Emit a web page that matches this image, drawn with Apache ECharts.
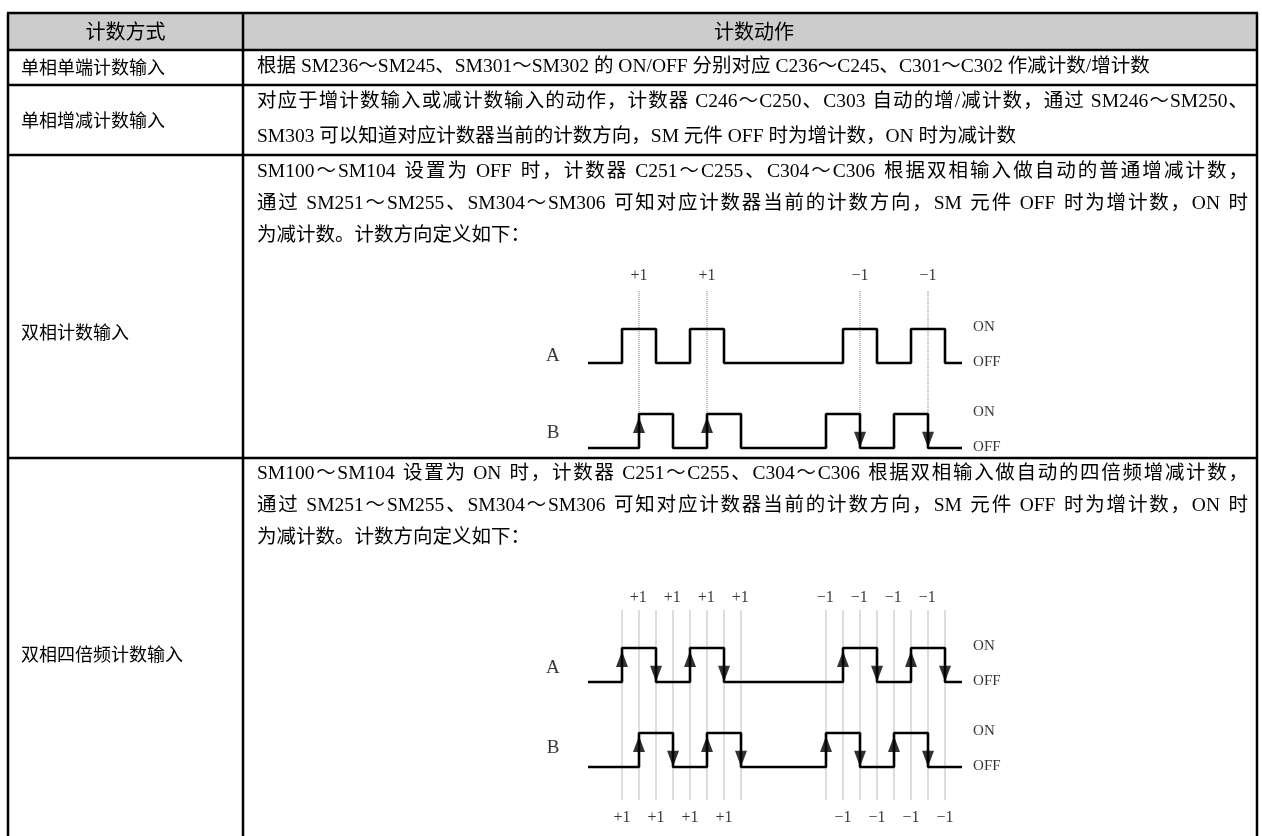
<!DOCTYPE html>
<html><head><meta charset="utf-8">
<script src="https://cdn.jsdelivr.net/npm/echarts@6/dist/echarts.min.js"></script>
<style>html,body{margin:0;padding:0;background:#fff}#c{width:1262px;height:836px}</style>
</head><body><div id="c"></div>
<script>
// ---------- content ----------
const headers = ['计数方式', '计数动作'];
const modes = ['单相单端计数输入', '单相增减计数输入', '双相计数输入', '双相四倍频计数输入'];
const actionRow1 = ['根据 SM236～SM245、SM301～SM302 的 ON/OFF 分别对应 C236～C245、C301～C302 作减计数/增计数'];
const actionRow2 = ['对应于增计数输入或减计数输入的动作，计数器 C246～C250、C303 自动的增/减计数，通过 SM246～SM250、',
  'SM303 可以知道对应计数器当前的计数方向，SM 元件 OFF 时为增计数，ON 时为减计数'];
const actionRow3 = ['SM100～SM104 设置为 OFF 时，计数器 C251～C255、C304～C306 根据双相输入做自动的普通增减计数，',
  '通过 SM251～SM255、SM304～SM306 可知对应计数器当前的计数方向，SM 元件 OFF 时为增计数，ON 时',
  '为减计数。计数方向定义如下：'];
const actionRow4 = ['SM100～SM104 设置为 ON 时，计数器 C251～C255、C304～C306 根据双相输入做自动的四倍频增减计数，',
  '通过 SM251～SM255、SM304～SM306 可知对应计数器当前的计数方向，SM 元件 OFF 时为增计数，ON 时',
  '为减计数。计数方向定义如下：'];

// ---------- waveform data (time in quarter-period units) ----------
const tEnd = 22;
const aEdges = [2, 4, 6, 8, 15, 17, 19, 21];   // A: rise, fall, rise, fall ...
const bEdges = [3, 5, 7, 9, 14, 16, 18, 20];   // B: rise, fall, rise, fall ...
const signalNames = ['A', 'B'];
const stateNames = ['ON', 'OFF'];
const dualCountEdges = [3, 7, 16, 20];           // counted B edges (双相)
const dualCountLabels = ['+1', '+1', '−1', '−1'];
const quadTopLabels = ['+1', '+1', '+1', '+1', '−1', '−1', '−1', '−1'];    // at B edges
const quadBottomLabels = ['+1', '+1', '+1', '+1', '−1', '−1', '−1', '−1'];  // at A edges

// ---------- layout ----------
const rowY = [13, 50, 85, 155, 458];
const colX = [8, 243, 1257];
const pageH = 836;
const textLeft = 257;
const justifyRight = 1248;
const textLinesY = [[67], [102, 137], [172, 204, 236], [474, 506, 538]];
const justified = [[false], [true, false], [true, true, false], [true, true, false]];
const modeY = [67, 120, 332, 654];
const serif = '"Liberation Serif", "Noto Sans CJK SC", serif';
const sans = '"Noto Sans CJK SC", "Noto Sans", sans-serif';
const bodySize = 19.5;
const aGap = 2.5;      // A baseline above B baseline (y units)
const pxX = 17, pxY = 34;
const diagX0 = 588;
const diag = [{offY: 448, top: 5.06, guideTop: 4.62, aName: 2.72, bName: 0.45},
              {offY: 767, top: 4.98, guideTop: 4.6, aName: 2.9, bName: 0.55}];

const measureCtx = document.createElement('canvas').getContext('2d');
function textWidth(t, size, family) {
  measureCtx.font = size + 'px ' + family;
  return measureCtx.measureText(t).width;
}

const graphics = [];
graphics.push({type: 'rect', shape: {x: colX[0], y: rowY[0], width: colX[2] - colX[0], height: rowY[1] - rowY[0]},
  style: {fill: '#cccccc'}, z: 0});
rowY.forEach(y => graphics.push({type: 'line', shape: {x1: colX[0] - 1, y1: y, x2: colX[2] + 1, y2: y},
  style: {stroke: '#000', lineWidth: 2.5}, z: 2}));
colX.forEach(x => graphics.push({type: 'line', shape: {x1: x, y1: rowY[0], x2: x, y2: pageH},
  style: {stroke: '#000', lineWidth: 2.5}, z: 2}));
graphics.push({type: 'text', style: {text: headers[0], x: (colX[0] + colX[1]) / 2, y: (rowY[0] + rowY[1]) / 2,
  align: 'center', verticalAlign: 'middle', fontSize: 20, fontFamily: sans, fill: '#000'}, z: 3});
graphics.push({type: 'text', style: {text: headers[1], x: 754, y: (rowY[0] + rowY[1]) / 2,
  align: 'center', verticalAlign: 'middle', fontSize: 20, fontFamily: sans, fill: '#000'}, z: 3});
modes.forEach((m, i) => graphics.push({type: 'text', style: {text: m, x: 21, y: modeY[i],
  align: 'left', verticalAlign: 'middle', fontSize: 18, fontFamily: sans, fill: '#000'}, z: 3}));

function bodyText(t, x, y) {
  return {type: 'text', style: {text: t, x: x, y: y, align: 'left', verticalAlign: 'middle',
    fontSize: bodySize, fontFamily: serif, fill: '#000'}, z: 3};
}
[actionRow1, actionRow2, actionRow3, actionRow4].forEach((lines, r) => lines.forEach((t, k) => {
  const y = textLinesY[r][k];
  if (!justified[r][k]) { graphics.push(bodyText(t, textLeft, y)); return; }
  // justified line: distribute the spare width between words / CJK characters
  const tokens = t.match(/[A-Za-z0-9\/]+| |./gu);
  const widths = tokens.map(s => textWidth(s, bodySize, serif));
  const natural = widths.reduce((a, b) => a + b, 0);
  const extra = (justifyRight - textLeft - natural) / (tokens.length - 1);
  let cx = textLeft;
  tokens.forEach((s, i) => {
    if (s !== ' ') graphics.push(bodyText(s, cx, y));
    cx += widths[i] + extra;
  });
}));

// ---------- series ----------
function stepData(edges, base) {
  const pts = [[0, base]]; let lvl = 0;
  edges.forEach(t => { pts.push([t, base + lvl]); lvl = 1 - lvl; pts.push([t, base + lvl]); });
  pts.push([tEnd, base + lvl]);
  return pts;
}
function edgeDir(edges, t) { return edges.indexOf(t) % 2 === 0 ? 1 : -1; }

const grids = [], xAxes = [], yAxes = [], series = [];
const xMin = -4, xMax = 26, yMin = -2, yMax = 5.5;
diag.forEach((d, gi) => {
  grids.push({left: diagX0 + xMin * pxX, width: (xMax - xMin) * pxX,
    top: d.offY - yMax * pxY, height: (yMax - yMin) * pxY});
  xAxes.push({type: 'value', gridIndex: gi, min: xMin, max: xMax, show: false});
  yAxes.push({type: 'value', gridIndex: gi, min: yMin, max: yMax, show: false});
  const common = {xAxisIndex: gi, yAxisIndex: gi, animation: false, silent: true};
  // dotted guides
  const guides = gi === 0 ? dualCountEdges.map(t => [t, d.guideTop, 0]) :
    aEdges.concat(bEdges).map(t => [t, d.guideTop, -0.98]);
  guides.forEach(g => series.push(Object.assign({type: 'line', data: [[g[0], g[1]], [g[0], g[2]]], symbol: 'none',
    lineStyle: {color: '#7a7a7a', width: 1, type: [1, 1]}, z: 1}, common)));
  // waveforms
  series.push(Object.assign({type: 'line', data: stepData(aEdges, aGap), symbol: 'none',
    lineStyle: {color: '#000', width: 2.6}, z: 3}, common));
  series.push(Object.assign({type: 'line', data: stepData(bEdges, 0), symbol: 'none',
    lineStyle: {color: '#000', width: 2.6}, z: 3}, common));
  // arrows
  const arrows = [];
  const addArrow = (edges, t, base) => {
    const dir = edgeDir(edges, t);
    arrows.push({value: [t, base + (dir > 0 ? 0.68 : 0.24)], symbolRotate: dir > 0 ? 0 : 180});
  };
  if (gi === 0) dualCountEdges.forEach(t => addArrow(bEdges, t, 0));
  else { aEdges.forEach(t => addArrow(aEdges, t, aGap)); bEdges.forEach(t => addArrow(bEdges, t, 0)); }
  series.push(Object.assign({type: 'scatter', data: arrows, symbol: 'triangle', symbolSize: [12, 16],
    itemStyle: {color: '#000'}, z: 4, clip: false}, common));
  // count labels
  const lab = [];
  if (gi === 0) dualCountEdges.forEach((t, i) => lab.push({value: [t, d.top], name: dualCountLabels[i]}));
  else {
    bEdges.forEach((t, i) => lab.push({value: [t - 0.05, d.top], name: quadTopLabels[i]}));
    aEdges.forEach((t, i) => lab.push({value: [t, -1.5], name: quadBottomLabels[i]}));
  }
  series.push(Object.assign({type: 'scatter', data: lab, symbolSize: 0, clip: false,
    label: {show: true, position: 'inside', formatter: '{b}', color: '#000', fontSize: 16, fontFamily: serif}}, common));
  // signal names and states
  const names = [{value: [-2.06, d.aName], name: signalNames[0]}, {value: [-2.06, d.bName], name: signalNames[1]}];
  series.push(Object.assign({type: 'scatter', data: names, symbolSize: 0, clip: false,
    label: {show: true, position: 'inside', formatter: '{b}', color: '#000', fontSize: 19, fontFamily: serif}}, common));
  const states = [{value: [22.65, aGap + 1.05], name: stateNames[0]}, {value: [22.65, aGap + 0.02], name: stateNames[1]},
                  {value: [22.65, 1.05], name: stateNames[0]}, {value: [22.65, 0.04], name: stateNames[1]}];
  series.push(Object.assign({type: 'scatter', data: states, symbolSize: 0, clip: false,
    label: {show: true, position: 'right', distance: 0, formatter: '{b}', color: '#000', fontSize: 15, fontFamily: serif}}, common));
});

const chart = echarts.init(document.getElementById('c'), null, {renderer: 'canvas'});
chart.setOption({
  backgroundColor: '#fff', animation: false,
  grid: grids, xAxis: xAxes, yAxis: yAxes, series: series, graphic: graphics
});
</script></body></html>
